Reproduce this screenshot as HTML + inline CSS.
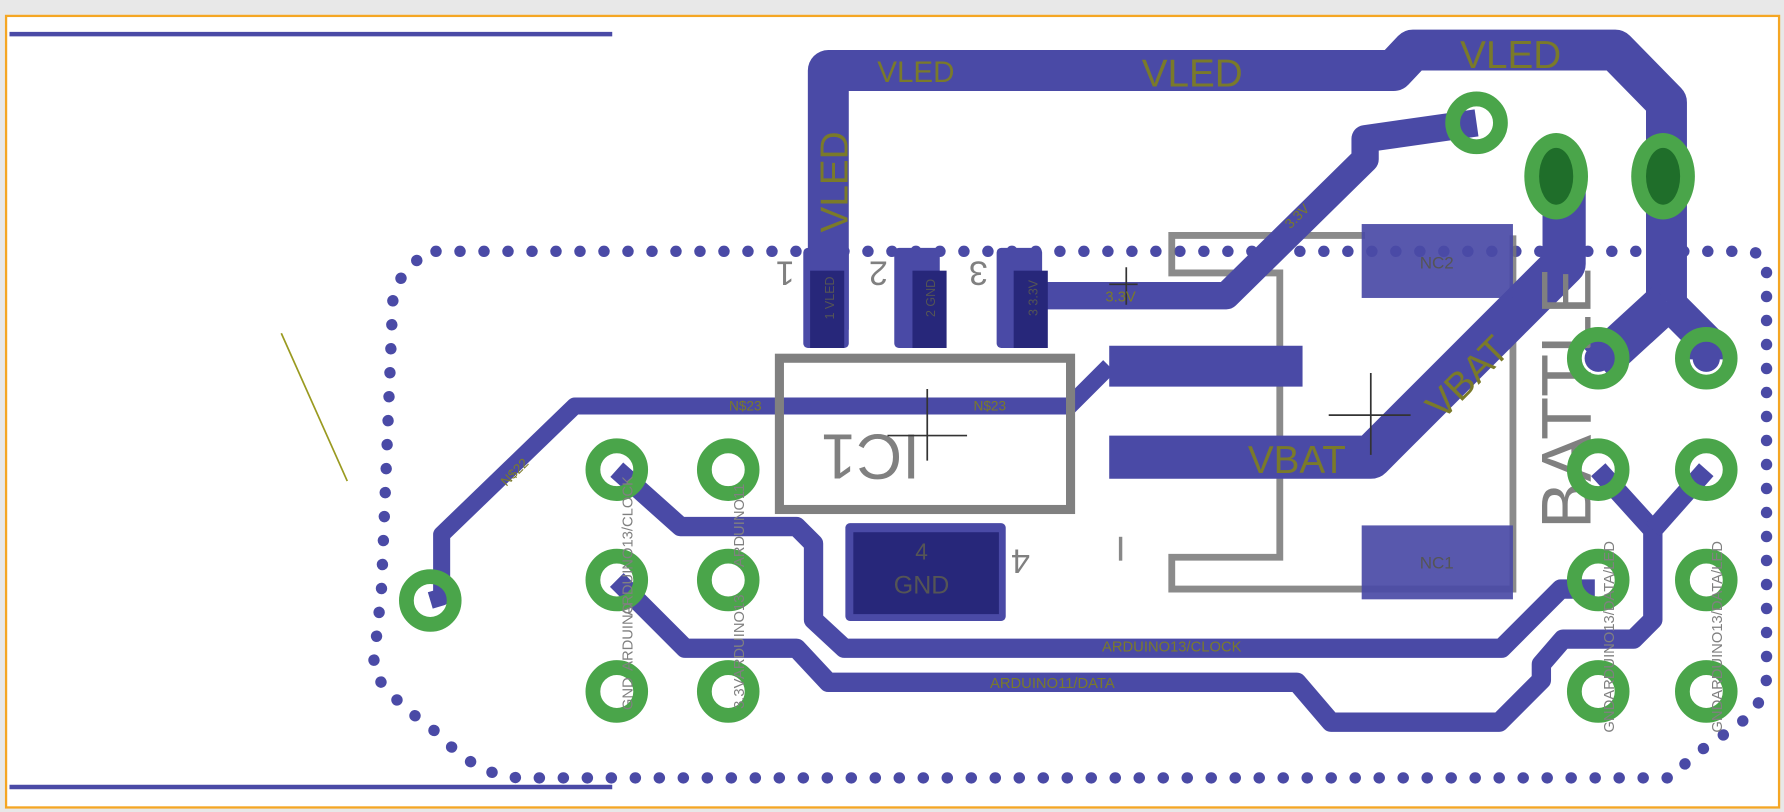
<!DOCTYPE html>
<html><head><meta charset="utf-8"><style>
html,body{margin:0;padding:0;background:#e8e8e8;}
svg{display:block;}
text{font-family:"Liberation Sans",sans-serif;}
</style></head><body>
<svg width="1784" height="812" viewBox="0 0 1568 714" xmlns="http://www.w3.org/2000/svg">
<rect x="0" y="0" width="1568" height="714" fill="#e8e8e8"/>
<rect x="5" y="14" width="1559" height="696" fill="#fff" stroke="#f5a623" stroke-width="2"/>
<line x1="8" y1="30" x2="538" y2="30" stroke="#4a4aa6" stroke-width="4"/>
<line x1="8" y1="692" x2="538" y2="692" stroke="#4a4aa6" stroke-width="4"/>
<line x1="247" y1="293" x2="305" y2="423" stroke="#9a9a20" stroke-width="1.5"/>
<path d="M383,221 L1535,221 Q1553,221 1553,240 L1553,595 Q1552,625 1512,648 Q1482,668 1470,684 L460,684 Q420,684 385,645 Q330,605 328,585 L335,520 L345,265 Q352,230 383,221 Z" fill="none" stroke="#4a4aa6" stroke-width="10" stroke-linecap="round" stroke-dasharray="0.1 21"/>
<!-- battery outline (under pads) -->
<g stroke="#777" stroke-width="6" fill="none" opacity="0.85">
<polyline points="1200,207 1030,207 1030,240 1125,240 1125,490 1030,490 1030,518 1330,518 1330,207"/>
</g>
<g fill="none" stroke="#4a4aa6" stroke-linejoin="round">
<polyline points="728,290 728,62 1225,62 1242,44 1420,44 1465,90 1465,265" stroke-width="36"/>
<polyline points="1465,265 1405,320" stroke-width="36"/>
<polyline points="1465,265 1500,300 1500,316" stroke-width="30"/>
<polyline points="905,260 1078,260 1200,140 1200,122 1298,108" stroke-width="24"/>
<polyline points="975,402 1205,402 1375,232 1375,155" stroke-width="38"/>
<polyline points="975,322 1145,322" stroke-width="36"/>
<polyline points="378,528 388,525 388,470 505,357 940,357 975,322" stroke-width="15"/>
<polyline points="542,413 598,463 700,463 715,478 715,545 742,570 1320,570 1372,518 1402,518" stroke-width="17"/>
<polyline points="542,510 602,570 700,570 728,600 1140,600 1170,635 1318,635 1355,598 1355,584 1374,562 1436,562 1453,545 1453,466 1405,413" stroke-width="17"/>
<polyline points="1453,466 1500,413" stroke-width="17"/>
</g>
<rect x="1197" y="197" width="133" height="65" fill="#4a4aa6" opacity="0.92"/>
<rect x="1197" y="462" width="133" height="65" fill="#4a4aa6" opacity="0.92"/>
<text x="1263" y="236" font-size="15" fill="#555" text-anchor="middle">NC2</text>
<text x="1263" y="500" font-size="15" fill="#555" text-anchor="middle">NC1</text>
<g fill="#4a4aa6">
<rect x="706" y="218" width="40" height="88" rx="4"/>
<rect x="786" y="218" width="40" height="88" rx="4"/>
<rect x="876" y="218" width="40" height="88" rx="4"/>
<rect x="743" y="460" width="141" height="86" rx="4"/>
</g>
<g fill="#27277a">
<rect x="712" y="238" width="30" height="68"/>
<rect x="802" y="238" width="30" height="68"/>
<rect x="891" y="238" width="30" height="68"/>
<rect x="750" y="468" width="128" height="72"/>
</g>
<rect x="685" y="315" width="256" height="133" fill="none" stroke="#808080" stroke-width="8"/>
<text x="810" y="492" font-size="20" fill="#555" text-anchor="middle">4</text>
<text x="810" y="522" font-size="22" fill="#555" text-anchor="middle">GND</text>
<g fill="#808080" font-size="30">
<text transform="translate(690,230) rotate(180)" text-anchor="middle">1</text>
<text transform="translate(772,230) rotate(180)" text-anchor="middle">2</text>
<text transform="translate(860,230) rotate(180)" text-anchor="middle">3</text>
<text transform="translate(897,483) rotate(180)" text-anchor="middle">4</text>
<text transform="translate(765,382) rotate(180)" text-anchor="middle" font-size="56">IC1</text>
</g>
<g fill="#555" font-size="11">
<text transform="translate(733,262) rotate(-90)" text-anchor="middle">1 VLED</text>
<text transform="translate(822,262) rotate(-90)" text-anchor="middle">2 GND</text>
<text transform="translate(912,262) rotate(-90)" text-anchor="middle">3 3.3V</text>
</g>
<g stroke="#333" stroke-width="1.5">
<line x1="780" y1="383" x2="850" y2="383"/><line x1="815" y1="342" x2="815" y2="405"/>
<line x1="1168" y1="365" x2="1240" y2="365"/><line x1="1205" y1="328" x2="1205" y2="400"/>
<line x1="975" y1="250" x2="1000" y2="250"/><line x1="990" y1="235" x2="990" y2="268"/>
<line x1="985" y1="472" x2="985" y2="493" stroke="#888" stroke-width="3"/>
</g>
<text transform="translate(1398,465) rotate(-90)" font-size="62" fill="#808080">BATTLE</text>
<g fill="#7a7a2a">
<text x="805" y="72" font-size="26" text-anchor="middle">VLED</text>
<text x="1048" y="76" font-size="34" text-anchor="middle">VLED</text>
<text x="1328" y="60" font-size="34" text-anchor="middle">VLED</text>
<text transform="translate(745,160) rotate(-90)" font-size="34" text-anchor="middle">VLED</text>
<text x="1140" y="416" font-size="34" text-anchor="middle">VBAT</text>
<text transform="translate(1298,340) rotate(-45)" font-size="34" text-anchor="middle">VBAT</text>
<text x="985" y="265" font-size="13" text-anchor="middle">3.3V</text>
<text transform="translate(1143,193) rotate(-45)" font-size="12" text-anchor="middle">3.3V</text>
<text x="655" y="361" font-size="12" text-anchor="middle">N$23</text>
<text x="870" y="361" font-size="12" text-anchor="middle">N$23</text>
<text transform="translate(455,418) rotate(-45)" font-size="12" text-anchor="middle">N$22</text>
<text x="1030" y="573" font-size="13" text-anchor="middle">ARDUINO13/CLOCK</text>
<text x="925" y="605" font-size="13" text-anchor="middle">ARDUINO11/DATA</text>
</g>
<g fill="none" stroke="#4aa54a" stroke-width="13">
<circle cx="378" cy="528" r="21"/>
<circle cx="1298" cy="108" r="21"/>
<circle cx="542" cy="413" r="21"/><circle cx="640" cy="413" r="21"/>
<circle cx="542" cy="510" r="21"/><circle cx="640" cy="510" r="21"/>
<circle cx="542" cy="608" r="21"/><circle cx="640" cy="608" r="21"/>
<circle cx="1405" cy="315" r="21"/><circle cx="1500" cy="315" r="21"/>
<circle cx="1405" cy="413" r="21"/><circle cx="1500" cy="413" r="21"/>
<circle cx="1405" cy="510" r="21"/><circle cx="1500" cy="510" r="21"/>
<circle cx="1405" cy="608" r="21"/><circle cx="1500" cy="608" r="21"/>
</g>
<ellipse cx="1368" cy="155" rx="28" ry="38" fill="#4aa54a"/>
<ellipse cx="1462" cy="155" rx="28" ry="38" fill="#4aa54a"/>
<ellipse cx="1368" cy="155" rx="15" ry="25" fill="#1f6e2a"/>
<ellipse cx="1462" cy="155" rx="15" ry="25" fill="#1f6e2a"/>
<circle cx="1405" cy="315" r="12" fill="#4a4aa6"/>
<circle cx="1500" cy="315" r="12" fill="#4a4aa6"/>
<g fill="#808080" font-size="13">
<text transform="translate(556,480) rotate(-90)" text-anchor="middle">ARDUINO13/CLOCK</text>
<text transform="translate(654,462) rotate(-90)" text-anchor="middle">ARDUINO11</text>
<text transform="translate(556,560) rotate(-90)" text-anchor="middle">ARDUINO</text>
<text transform="translate(654,560) rotate(-90)" text-anchor="middle">ARDUINO13</text>
<text transform="translate(556,610) rotate(-90)" text-anchor="middle">GND</text>
<text transform="translate(654,610) rotate(-90)" text-anchor="middle">3.3V</text>
<text transform="translate(1419,560) rotate(-90)" text-anchor="middle">GNDARDUINO13/DATA/LED</text>
<text transform="translate(1514,560) rotate(-90)" text-anchor="middle">GNDARDUINO13/DATA/LED</text>
</g>
</svg>
</body></html>
